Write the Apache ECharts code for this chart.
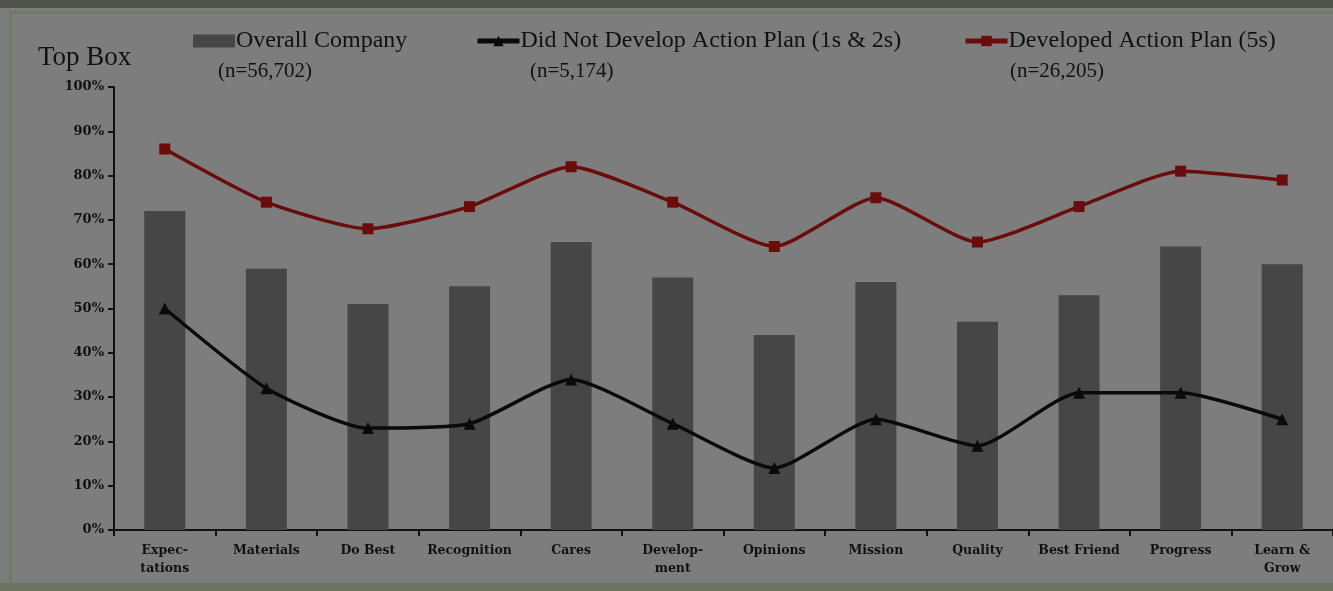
<!DOCTYPE html>
<html>
<head>
<meta charset="utf-8">
<script src="https://cdn.jsdelivr.net/npm/echarts@6/dist/echarts.min.js"></script>
<style>
  html, body { margin: 0; padding: 0; background: #7d7d7d; }
  #chart { width: 1333px; height: 591px; }
</style>
</head>
<body>
<div id="chart"></div>
<script>
// Engagement items (Top Box %)
const categories = ['Expec-\ntations', 'Materials', 'Do Best', 'Recognition', 'Cares', 'Develop-\nment',
  'Opinions', 'Mission', 'Quality', 'Best Friend', 'Progress', 'Learn &\nGrow'];
const overallCompany = [72, 59, 51, 55, 65, 57, 44, 56, 47, 53, 64, 60];
const didNotDevelop = [50, 32, 23, 24, 34, 24, 14, 25, 19, 31, 31, 25];
const developedPlan = [86, 74, 68, 73, 82, 74, 64, 75, 65, 73, 81, 79];
const seriesNames = ['Overall Company', 'Did Not Develop Action Plan (1s & 2s)', 'Developed Action Plan (5s)'];
const sampleSizes = ['(n=56,702)', '(n=5,174)', '(n=26,205)'];

const FONT = '"Liberation Serif", "DejaVu Serif", serif';
const AXIS_FONT = '"DejaVu Serif", "Liberation Serif", serif';
const INK = '#111111';

const chart = echarts.init(document.getElementById('chart'));
const legendBase = {
  itemWidth: 42, itemHeight: 13, itemGap: 0, top: 24,
  textStyle: { fontFamily: FONT, fontSize: 24, color: INK, padding: [0, 0, 0, -4] }
};
chart.setOption({
  backgroundColor: '#7d7d7d',
  animation: false,
  legend: [
    Object.assign({}, legendBase, { left: 188, data: [{ name: seriesNames[0], icon: 'rect' }] }),
    Object.assign({}, legendBase, { left: 470, lineStyle: { width: 5 }, data: [seriesNames[1]] }),
    Object.assign({}, legendBase, { left: 958, lineStyle: { width: 5 }, data: [seriesNames[2]] })
  ],
  graphic: [
    { type: 'rect', left: 0, top: 0, shape: { width: 1333, height: 8 }, style: { fill: '#505349' } },
    { type: 'rect', left: 8, top: 10, shape: { width: 1340, height: 572 },
      style: { fill: 'none', stroke: '#6f7a62', lineWidth: 3 } },
    { type: 'rect', left: 0, top: 583, shape: { width: 1333, height: 8 }, style: { fill: '#6c745f' } },
    { type: 'text', left: 38, top: 44, style: { text: 'Top Box', font: '27px ' + FONT, fill: INK } },
    { type: 'text', left: 218, top: 61, style: { text: sampleSizes[0], font: '21px ' + FONT, fill: INK } },
    { type: 'text', left: 530, top: 61, style: { text: sampleSizes[1], font: '21px ' + FONT, fill: INK } },
    { type: 'text', left: 1010, top: 61, style: { text: sampleSizes[2], font: '21px ' + FONT, fill: INK } }
  ],
  grid: { left: 114, top: 87, width: 1227, height: 443, containLabel: false },
  xAxis: {
    type: 'category',
    data: categories,
    boundaryGap: true,
    axisLine: { lineStyle: { color: INK, width: 2 } },
    axisTick: { show: true, length: 6, lineStyle: { color: INK, width: 2 } },
    axisLabel: { fontFamily: AXIS_FONT, fontSize: 12.5, fontWeight: 'bold', color: INK, margin: 12, lineHeight: 18, interval: 0 }
  },
  yAxis: {
    type: 'value',
    min: 0, max: 100, interval: 10,
    axisLine: { show: true, lineStyle: { color: INK, width: 2 } },
    axisTick: { show: true, length: 6, lineStyle: { color: INK, width: 2 } },
    splitLine: { show: false },
    axisLabel: { fontFamily: AXIS_FONT, fontSize: 13, fontWeight: 'bold', color: INK, margin: 10, formatter: '{value}%' }
  },
  series: [
    {
      name: seriesNames[0], type: 'bar', data: overallCompany, barWidth: 41,
      itemStyle: { color: '#464646' }
    },
    {
      name: seriesNames[1], type: 'line', data: didNotDevelop, smooth: 0.2,
      symbol: 'triangle', symbolSize: 12,
      lineStyle: { color: '#0a0a0a', width: 3.5 },
      itemStyle: { color: '#0a0a0a' }
    },
    {
      name: seriesNames[2], type: 'line', data: developedPlan, smooth: 0.2,
      symbol: 'rect', symbolSize: 11,
      lineStyle: { color: '#6a0c0c', width: 3.5 },
      itemStyle: { color: '#6a0c0c' }
    }
  ]
});
</script>
</body>
</html>
